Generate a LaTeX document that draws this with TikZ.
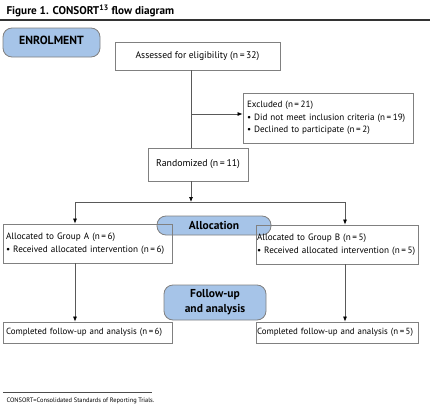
\documentclass[tikz,border=0pt]{standalone}
\usepackage{fontspec}
\setmainfont{PT Sans}
\usetikzlibrary{arrows.meta}

\definecolor{pillblue}{RGB}{166,196,232}
\definecolor{linegray}{RGB}{128,128,128}

\begin{document}
\begin{tikzpicture}[x=1pt,y=-1pt,
  box_node/.style={rectangle,draw=linegray,line width=0.8pt,inner sep=0pt,font=\fontsize{9.2}{12.8}\selectfont},
  pill_node/.style={draw=linegray,line width=0.8pt,fill=pillblue,rounded corners=9pt,inner sep=0pt,align=center,font=\bfseries\fontsize{11.5}{15}\selectfont},
  flow/.style={draw=black!65,line width=0.7pt},
  flow_arrow/.style={flow,-{Latex[length=5pt,width=4pt,black]}}]

    \useasboundingbox (0,0) rectangle (432,407);

    \node[anchor=base west,font=\bfseries\fontsize{11.2}{13}\selectfont] (title) at (3,14) {Figure 1. CONSORT\textsuperscript{13} flow diagram};
    \draw[line width=1.5pt,black!80] (0,20) -- (430,20);

    % stage labels
    \node[pill_node,minimum width=97pt,minimum height=29pt,text depth=5pt,font=\bfseries\fontsize{11.8}{13}\selectfont] (enrol) at (51.5,42.5) {ENROLMENT};
    \node[pill_node,minimum width=114pt,minimum height=19pt] (alloc) at (214,225.5) {Allocation};
    \node[pill_node,minimum width=102pt,minimum height=35pt] (follow) at (215,302.5) {Follow-up\\and analysis};

    \node[box_node,minimum width=165pt,minimum height=28pt,font=\fontsize{9.6}{12}\selectfont] (assess) at (197.5,56) {Assessed for eligibility (n\,=\,32)};
    \node[box_node,minimum width=170pt,minimum height=50pt,text width=162pt,align=left,font=\fontsize{9.1}{12.5}\selectfont] (excl) at (328,118)
        {Excluded (n\,=\,21)\\\textbullet\ Did not meet inclusion criteria (n\,=\,19)\\\textbullet\ Declined to participate (n\,=\,2)};
    \node[box_node,minimum width=100pt,minimum height=33pt,font=\fontsize{9.8}{12}\selectfont] (rand) at (198,164.5) {Randomized (n\,=\,11)};

    \node[box_node,minimum width=169pt,minimum height=39pt,text width=163pt,align=left] (grpA) at (87.5,243.5)
        {Allocated to Group A (n\,=\,6)\\\textbullet\ Received allocated intervention (n\,=\,6)};
    \node[box_node,minimum width=162pt,minimum height=39pt,text width=160pt,align=left] (grpB) at (337,244.5)
        {Allocated to Group B (n\,=\,5)\\\textbullet\ Received allocated intervention (n\,=\,5)};

    \node[box_node,minimum width=169pt,minimum height=21pt,text width=163pt,align=left,font=\fontsize{8.9}{12}\selectfont] (compA) at (87.5,332.5) {Completed follow-up and analysis (n\,=\,6)};
    \node[box_node,minimum width=162pt,minimum height=21pt,text width=160pt,align=left,font=\fontsize{8.9}{12}\selectfont] (compB) at (337,332.5) {Completed follow-up and analysis (n\,=\,5)};

    \coordinate (excl_join) at (191,114);
    \coordinate (split) at (191,202);
    \coordinate (split_a) at (75,202);
    \coordinate (split_b) at (345,202);

    \draw[flow] (excl_join |- assess.south) -- (excl_join |- rand.north);
    \draw[flow_arrow] (excl_join) -- (excl_join -| excl.west);
    \draw[flow_arrow] (split |- rand.south) -- (split);
    \draw[flow] (split_a) -- (split_b);
    \draw[flow_arrow] (split_a) -- (split_a |- grpA.north);
    \draw[flow_arrow] (split_b) -- (split_b |- grpB.north);
    \draw[flow_arrow] (split_a |- grpA.south) -- (split_a |- compA.north);
    \draw[flow_arrow] (split_b |- grpB.south) -- (split_b |- compB.north);

    % footnote
    \draw[line width=0.6pt,black!70] (3,392) -- (152,392);
    \node[anchor=base west,font=\fontsize{6.4}{7}\selectfont] (note) at (3,402) {CONSORT=Consolidated Standards of Reporting Trials.};
\end{tikzpicture}
\end{document}
